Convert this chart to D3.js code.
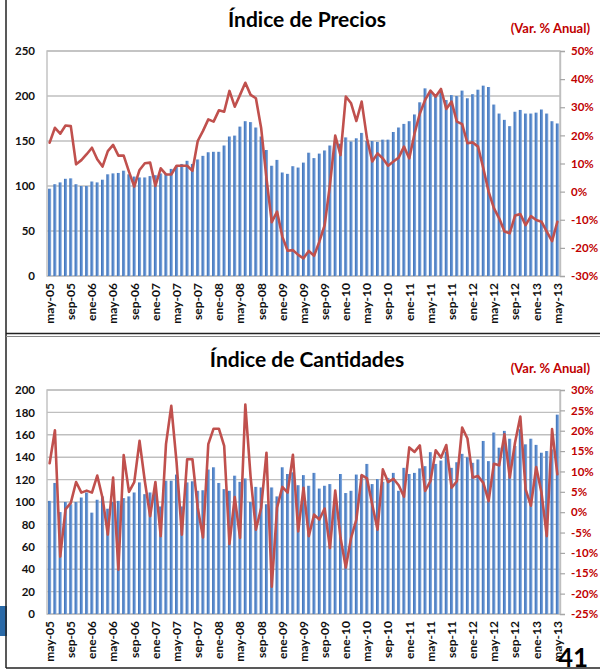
<!DOCTYPE html>
<html><head><meta charset="utf-8">
<script src="https://cdn.jsdelivr.net/npm/d3@7/dist/d3.min.js"></script>
<style>
body{margin:0;background:#fff}
svg{display:block}
text{font-family:Lato,"Noto Sans",sans-serif}
</style>
</head><body>
<svg id="c" width="600" height="671"></svg>
<script>
// ---------- DATA ----------
const monthAbbr = ["ene","feb","mar","abr","may","jun","jul","ago","sep","oct","nov","dic"];
// categories: monthly May-2005 .. May-2013 (97 months)
const categories = [];
for (let k = 0; k < 97; k++) {
  const m = (4 + k) % 12, y = 5 + Math.floor((4 + k) / 12);
  categories.push(monthAbbr[m] + "-" + String(y).padStart(2, "0"));
}
const tickLabels = ["may-05","sep-05","ene-06","may-06","sep-06","ene-07","may-07","sep-07",
  "ene-08","may-08","sep-08","ene-09","may-09","sep-09","ene-10","may-10","sep-10","ene-11",
  "may-11","sep-11","ene-12","may-12","sep-12","ene-13","may-13"];

const precioIdx = [97,102,104,108,108.5,102,100,100,105,104,107,113,114,114.5,117,113,110.5,109.5,109.5,111,
  112,114,113.5,119,122.5,124.5,128,124.5,129.5,133.5,137.5,138,138,145,155,156,166,172,171,165,
  155,140,122.5,129,115,113.5,122,120.5,126,137,131,136,139.5,145,150,147,154,149.5,153,159,
  150,150,149,151.5,151.5,160,165,169,172,179.5,193,208.5,204,201,205,195.5,201,200,206,197.5,
  202,207,211.5,210,190.5,180.5,173.5,166.5,182.5,184.5,180.5,180.5,181.5,185,180.5,172,169.5];
const precioVar = [17.4,22.7,20.6,23.5,23.3,9.7,11.2,13.3,15.6,11.5,
  8.9,14.4,16.6,12.8,12.8,7.1,1.8,7.7,10.1,10.3,
  2.0,8.3,6.1,6.1,9.2,9.2,9.2,7.4,18.0,21.6,
  25.7,24.9,28.9,28.4,35.8,30.2,34.4,38.7,34.4,33.2,
  22.5,4.7,-10.9,-7.1,-16.0,-21.0,-20.8,-22.5,-23.7,-21.1,
  -22.8,-17.8,-11.9,2.4,19.9,13.0,33.8,31.4,25.1,32.0,
  19.0,10.7,13.6,11.8,9.2,10.7,12.1,16.0,11.8,20.7,
  27.8,32.6,35.9,33.8,36.5,29.4,32.0,24.9,24.0,17.2,
  17.5,16.0,8.3,0.0,-5.9,-9.5,-14.2,-14.8,-8.5,-8.0,
  -11.9,-8.7,-10.1,-10.7,-14.2,-17.6,-10.7];

const cantIdx = [101,117,91,100,98,100,104,108.5,90.5,102,105,94,100,101,103.5,105,108.5,117.5,107,108.5,
  110,96,119,119,124.5,96,117.5,118.5,110,110.5,129,131,117,111.5,110,123.5,118,121,100,113.5,
  113,98,113,105,131,125,126.5,115,124,114.5,126,112,114.5,116,98,125,108,110,124.5,124,
  134,116,120.5,118,121.5,126,110,130.5,125,126,130,132,144.5,134,137,145,130.5,135.5,143,140,
  135,138,154.5,136.5,162,148.5,163.5,156.5,150,165,151.5,156.5,151,144,145.5,147,178];
const cantVar = [12.0,20.1,-10.9,0.7,2.3,7.4,4.8,5.3,4.8,9.0,
  3.5,-5.5,8.5,-14.1,14.0,5.0,7.4,17.5,7.6,-1.0,
  7.4,-5.9,16.7,26.1,12.2,-5.5,13.0,13.0,1.1,-6.2,
  16.7,20.5,20.5,16.3,-7.8,3.7,-6.3,26.4,8.6,-4.3,
  1.1,14.6,-18.3,1.1,6.2,4.8,14.1,-4.7,6.0,-5.9,
  -0.6,-1.8,0.9,-8.8,5.3,-6.3,-13.6,-6.3,-1.8,9.1,
  8.3,1.9,-4.3,10.5,7.4,8.2,6.6,3.8,15.9,14.8,
  16.4,5.2,7.6,15.2,13.4,16.5,6.0,7.6,20.8,18.1,
  8.5,8.9,7.2,2.7,11.9,11.5,19.1,8.5,17.1,23.5,
  5.6,1.6,11.1,4.8,-5.9,20.4,9.3];

const precioLeftTicks = [0,50,100,150,200,250];
const precioRightTicks = [-30,-20,-10,0,10,20,30,40,50];
const cantLeftTicks = [0,20,40,60,80,100,120,140,160,180,200];
const cantRightTicks = [-25,-20,-15,-10,-5,0,5,10,15,20,25,30];

// ---------- DRAW ----------
const svg = d3.select("#c");
const defs = svg.append("defs");
const grad = defs.append("linearGradient").attr("id","barG").attr("x1","0").attr("x2","1").attr("y1","0").attr("y2","0");
grad.append("stop").attr("offset","0%").attr("stop-color","#3d6fb4");
grad.append("stop").attr("offset","55%").attr("stop-color","#5a8ccf");
grad.append("stop").attr("offset","100%").attr("stop-color","#8fb1df");

const RED = "#c00000";
const LINE = "#c0504d";
const GRID = "#bfbfbf";
const L = 47, R = 560;

function panel(o) {
  const g = svg.append("g");
  const x = d3.scaleBand().domain(categories).range([L, R]).padding(0);
  const yL = d3.scaleLinear().domain(o.leftDomain).range([o.bottom, o.top]);
  const yR = d3.scaleLinear().domain(o.rightDomain).range([o.bottom, o.top]);

  // gridlines
  g.append("g").selectAll("line").data(o.leftTicks).join("line")
    .attr("x1", L).attr("x2", R).attr("y1", d => yL(d)).attr("y2", d => yL(d))
    .attr("stroke", GRID).attr("stroke-width", 1.4);
  // plot border
  g.append("rect").attr("x", L).attr("y", o.top).attr("width", R - L).attr("height", o.bottom - o.top)
    .attr("fill", "none").attr("stroke", GRID).attr("stroke-width", 1.4);

  // bars
  const bw = x.bandwidth() * 0.58;
  g.append("g").selectAll("rect").data(o.bars).join("rect")
    .attr("x", (d, i) => x(categories[i]) + (x.bandwidth() - bw) / 2)
    .attr("width", bw)
    .attr("y", d => yL(d))
    .attr("height", d => yL(0) - yL(d))
    .attr("fill", "url(#barG)");

  // line
  const line = d3.line()
    .x((d, i) => x(categories[i]) + x.bandwidth() / 2)
    .y(d => yR(d));
  g.append("path").datum(o.line).attr("d", line)
    .attr("fill", "none").attr("stroke", LINE).attr("stroke-width", 2.6)
    .attr("stroke-linejoin", "round").attr("stroke-linecap", "round");

  // left axis
  const la = g.append("g").attr("transform", `translate(${L},0)`)
    .call(d3.axisLeft(yL).tickValues(o.leftTicks).tickSize(0).tickPadding(12));
  la.select(".domain").remove();
  la.selectAll("text").attr("fill", "#111").style("font-size", "11.5px").style("font-weight", "700");

  // right axis
  const ra = g.append("g").attr("transform", `translate(${R},0)`)
    .call(d3.axisRight(yR).tickValues(o.rightTicks).tickSize(5).tickPadding(6).tickFormat(d => d + "%"));
  ra.select(".domain").attr("stroke", GRID).attr("stroke-width", 1.4);
  ra.selectAll(".tick line").attr("stroke", "#a6a6a6").attr("stroke-width", 1.2);
  ra.selectAll("text").attr("fill", RED).style("font-size", "11.5px").style("font-weight", "700");

  // bottom axis
  const ba = g.append("g").attr("transform", `translate(0,${o.bottom})`)
    .call(d3.axisBottom(x).tickValues(tickLabels).tickSize(0));
  ba.select(".domain").remove();
  ba.selectAll("text")
    .attr("transform", "rotate(-90)")
    .attr("x", -7).attr("y", 0).attr("dy", "0.36em")
    .attr("text-anchor", "end")
    .attr("fill", "#111").style("font-size", "12px").style("font-weight", "700");

  // titles
  svg.append("text").attr("x", 307).attr("y", o.titleY).attr("text-anchor", "middle")
    .style("font-size", "21px").style("font-weight", "700").attr("fill", "#000").text(o.title);
  svg.append("text").attr("x", 590).attr("y", o.subY).attr("text-anchor", "end")
    .style("font-size", "13px").style("font-weight", "700").attr("fill", RED).text("(Var. % Anual)");
}

panel({ top: 51, bottom: 276, leftDomain: [0, 250], rightDomain: [-30, 50],
  leftTicks: precioLeftTicks, rightTicks: precioRightTicks,
  bars: precioIdx, line: precioVar, title: "Índice de Precios", titleY: 27, subY: 33 });
panel({ top: 390, bottom: 614, leftDomain: [0, 200], rightDomain: [-25, 30],
  leftTicks: cantLeftTicks, rightTicks: cantRightTicks,
  bars: cantIdx, line: cantVar, title: "Índice de Cantidades", titleY: 367, subY: 373 });

// slide frame decorations
svg.append("rect").attr("x", 0).attr("y", 606).attr("width", 7).attr("height", 30).attr("fill", "#2a6aa8");
svg.append("line").attr("x1", 6).attr("x2", 6).attr("y1", 0).attr("y2", 668).attr("stroke", "#222").attr("stroke-width", 1.5);
svg.append("line").attr("x1", 6).attr("x2", 600).attr("y1", 333.5).attr("y2", 333.5).attr("stroke", "#222").attr("stroke-width", 1.5);
svg.append("line").attr("x1", 6).attr("x2", 600).attr("y1", 336.5).attr("y2", 336.5).attr("stroke", "#888").attr("stroke-width", 1);
svg.append("line").attr("x1", 6).attr("x2", 600).attr("y1", 668).attr("y2", 668).attr("stroke", "#222").attr("stroke-width", 1.5);
svg.append("text").attr("x", 573).attr("y", 667).attr("text-anchor", "middle")
  .style("font-size", "26px").style("font-weight", "700").attr("fill", "#000").text("41");
</script>
</body></html>
